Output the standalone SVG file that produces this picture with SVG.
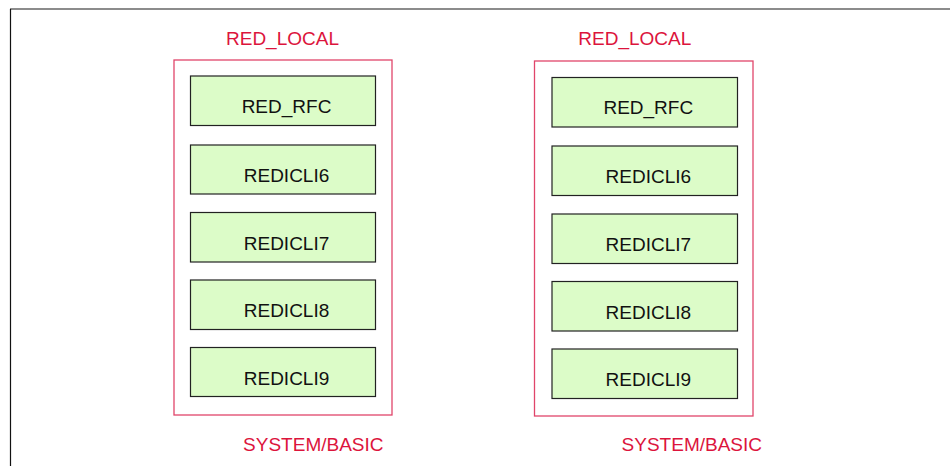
<svg xmlns="http://www.w3.org/2000/svg" width="950" height="466" viewBox="0 0 950 466">
<style>
.lbl{font-family:"Liberation Sans",Arial,sans-serif;font-size:19px;fill:#dc143c;text-anchor:middle}
.grp{fill:none;stroke:#e0456a;stroke-width:1.3}
.box{fill:#dcfcc8;stroke:#222;stroke-width:1.2}
.txt{font-family:"Liberation Sans",Arial,sans-serif;font-size:19px;fill:#111;text-anchor:middle}
</style>
<rect width="950" height="466" fill="#fff"/>
<g id="frame">
<line x1="10" y1="9" x2="950" y2="9" stroke="#666" stroke-width="1.6"/>
<line x1="10.5" y1="9" x2="10.5" y2="466" stroke="#111" stroke-width="1.2"/>
</g>
<g id="group-left">
<rect class="grp" x="174" y="60" width="218" height="355"/>
<text class="lbl" x="282.5" y="45">RED_LOCAL</text>
<text class="lbl" x="313.3" y="450.7">SYSTEM/BASIC</text>
</g>
<g id="group-right">
<rect class="grp" x="534.5" y="61" width="218.5" height="355"/>
<text class="lbl" x="634.8" y="45">RED_LOCAL</text>
<text class="lbl" x="691.8" y="450.7">SYSTEM/BASIC</text>
</g>
<g id="l-red-rfc"><rect class="box" x="190.5" y="76" width="185" height="49.5"/><text class="txt" x="286.5" y="113">RED_RFC</text></g>
<g id="l-redicli6"><rect class="box" x="190.5" y="145" width="185" height="49"/><text class="txt" x="286.5" y="182">REDICLI6</text></g>
<g id="l-redicli7"><rect class="box" x="190.5" y="212.5" width="185" height="49.5"/><text class="txt" x="286.5" y="249.5">REDICLI7</text></g>
<g id="l-redicli8"><rect class="box" x="190.5" y="280" width="185" height="49.5"/><text class="txt" x="286.5" y="317">REDICLI8</text></g>
<g id="l-redicli9"><rect class="box" x="190.5" y="347.5" width="185" height="49"/><text class="txt" x="286.5" y="384.5">REDICLI9</text></g>
<g id="r-red-rfc"><rect class="box" x="552" y="77.5" width="185.5" height="49.5"/><text class="txt" x="648.3" y="114">RED_RFC</text></g>
<g id="r-redicli6"><rect class="box" x="552" y="146" width="185.5" height="49.5"/><text class="txt" x="648.3" y="183">REDICLI6</text></g>
<g id="r-redicli7"><rect class="box" x="552" y="214" width="185.5" height="49.5"/><text class="txt" x="648.3" y="251">REDICLI7</text></g>
<g id="r-redicli8"><rect class="box" x="552" y="281.5" width="185.5" height="49.5"/><text class="txt" x="648.3" y="318.5">REDICLI8</text></g>
<g id="r-redicli9"><rect class="box" x="552" y="349" width="185.5" height="49.5"/><text class="txt" x="648.3" y="386">REDICLI9</text></g>
<g id="connectors"></g>
</svg>
